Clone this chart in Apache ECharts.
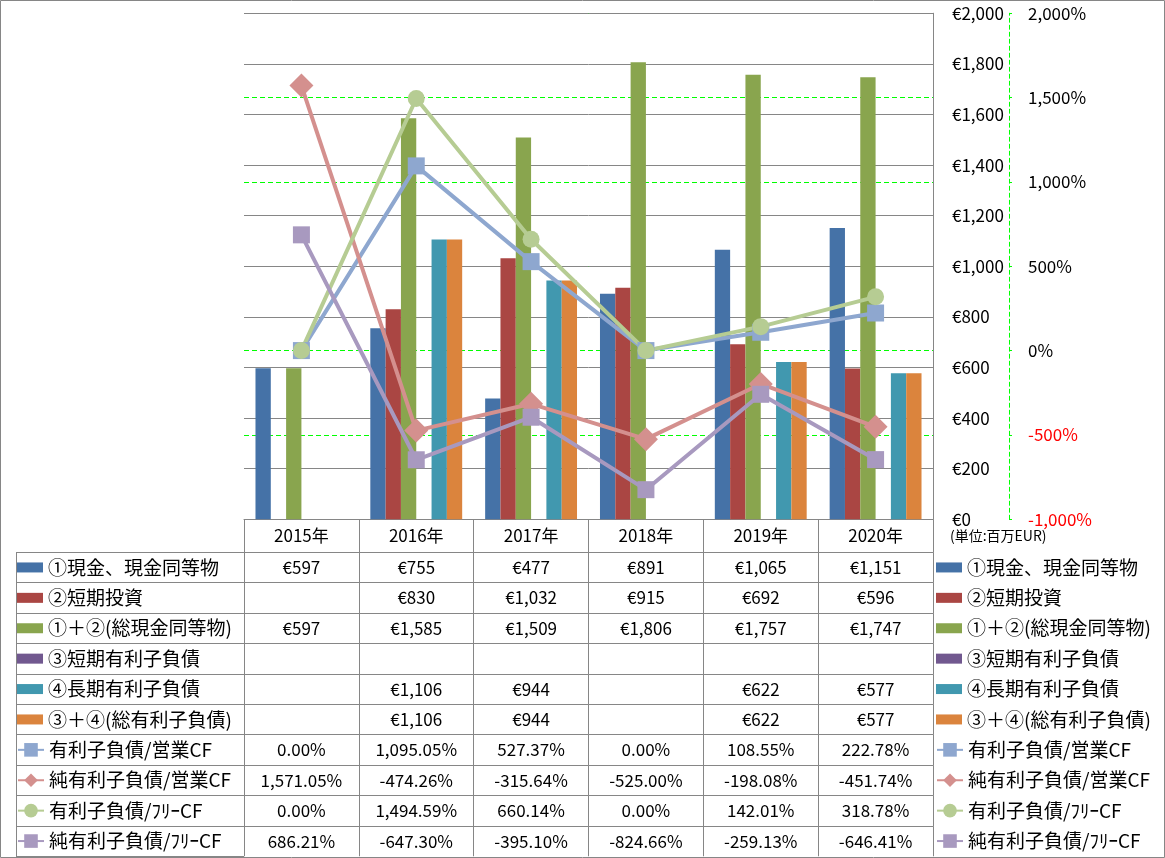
<!DOCTYPE html>
<html><head><meta charset="utf-8">
<script src="https://cdn.jsdelivr.net/npm/echarts@6/dist/echarts.min.js"></script>
<style>html,body{margin:0;padding:0;background:#fff}#c{width:1165px;height:858px}</style>
</head><body><div id="c"></div>
<script>
// ---- data ----
const categories = ['2015年','2016年','2017年','2018年','2019年','2020年'];
const barNames = ['①現金、現金同等物','②短期投資','①＋②(総現金同等物)','③短期有利子負債','④長期有利子負債','③＋④(総有利子負債)'];
const lineNames = ['有利子負債/営業CF','純有利子負債/営業CF','有利子負債/ﾌﾘｰCF','純有利子負債/ﾌﾘｰCF'];
const cash        = [597, 755, 477, 891, 1065, 1151];
const shortInv    = [null, 830, 1032, 915, 692, 596];
const totalCash   = [597, 1585, 1509, 1806, 1757, 1747];
const shortDebt   = [null, null, null, null, null, null];
const longDebt    = [null, 1106, 944, null, 622, 577];
const totalDebt   = [null, 1106, 944, null, 622, 577];
const debtOpCF    = [0, 1095.05, 527.37, 0, 108.55, 222.78];
const netDebtOpCF = [1571.05, -474.26, -315.64, -525.00, -198.08, -451.74];
const debtFreeCF  = [0, 1494.59, 660.14, 0, 142.01, 318.78];
const netDebtFreeCF = [686.21, -647.30, -395.10, -824.66, -259.13, -646.41];
const eurAxis = {min: 0, max: 2000, interval: 200};
const pctAxis = {min: -1000, max: 2000, interval: 500};
const unitLabel = '(単位:百万EUR)';

// ---- styles ----
const barColors = ['#4572A7','#AA4643','#89A54E','#71588F','#4198AF','#DB843D'];
const lineColors = ['#8EA7CF','#D4908E','#B6CC93','#A899BF'];
const lineSymbols = ['rect','diamond','circle','rect'];
const lineSymbolSizes = [17, 24, 17, 17];
const FONT = "'Noto Sans CJK JP', 'Noto Sans', sans-serif";
const GRAY = '#868686';
const GL = 244, GR = 933, GT = 13.25, GB = 519.25, W = 1165, H = 858;
const HEAD_H = 33, ROW_H = 30.4;
const NUM_FS = 17, LEG_FS = 19;

function groupInt(s){ return s.replace(/\B(?=(\d{3})+(?!\d))/g, ','); }
function fmtEur(v){ return v == null ? '' : '€' + groupInt(String(v)); }
function fmtPct(v){
  if (v == null) return '';
  const parts = Math.abs(v).toFixed(2).split('.');
  return (v < 0 ? '-' : '') + groupInt(parts[0]) + '.' + parts[1] + '%';
}

const barData = [cash, shortInv, totalCash, shortDebt, longDebt, totalDebt];
const lineData = [debtOpCF, netDebtOpCF, debtFreeCF, netDebtFreeCF];
const rows = barData.map(a => ({vals: a, fmt: fmtEur})).concat(lineData.map(a => ({vals: a, fmt: fmtPct})));

const rowOffsets = [];
for (let i = 0; i <= rows.length; i++) rowOffsets.push(Math.round(HEAD_H + ROW_H * i));

const xAxes = [{
  type: 'category', data: categories, gridIndex: 0, position: 'bottom', boundaryGap: true,
  axisLine: {show: true, onZero: false, lineStyle: {color: GRAY, width: 1}},
  axisTick: {show: true, interval: 0, length: HEAD_H, lineStyle: {color: GRAY}},
  axisLabel: {interval: 0, margin: 16, verticalAlign: 'middle', fontSize: NUM_FS, color: '#000', fontFamily: FONT},
  splitLine: {show: false}
}];
rows.forEach((r, i) => {
  xAxes.push({
    type: 'category', data: categories, gridIndex: 0, position: 'bottom', boundaryGap: true,
    offset: rowOffsets[i],
    axisLine: {show: true, onZero: false, lineStyle: {color: GRAY, width: 1}},
    axisTick: {show: true, interval: 0, length: rowOffsets[i+1] - rowOffsets[i], lineStyle: {color: GRAY}},
    axisLabel: {interval: 0, margin: (rowOffsets[i+1] - rowOffsets[i]) / 2, verticalAlign: 'middle', fontSize: NUM_FS, color: '#000', fontFamily: FONT,
      formatter: (v, idx) => r.fmt(r.vals[idx])},
    splitLine: {show: false}
  });
});

const series = [];
barNames.forEach((n, i) => series.push({
  name: n, type: 'bar', xAxisIndex: 0, yAxisIndex: 0, data: barData[i],
  itemStyle: {color: barColors[i]}, barGap: '0%', barCategoryGap: '20%'
}));
lineNames.forEach((n, i) => series.push({
  name: n, type: 'line', xAxisIndex: 0, yAxisIndex: 1, data: lineData[i],
  symbol: lineSymbols[i], symbolSize: lineSymbolSizes[i], showAllSymbol: true,
  lineStyle: {color: lineColors[i], width: 4}, itemStyle: {color: lineColors[i]}, z: 5
}));

function legend(left, top, names, ih){
  return {
    orient: 'vertical', left: left, top: top, padding: 0, data: names,
    itemWidth: 26, itemHeight: ih, itemGap: ROW_H - 20, selectedMode: false,
    icon: ih < 12 ? 'rect' : undefined,
    textStyle: {fontSize: LEG_FS, lineHeight: 20, color: '#000', fontFamily: FONT}
  };
}
const y0 = GB + HEAD_H + ROW_H / 2 - 10;
const y1 = GB + HEAD_H + ROW_H * 6 + ROW_H / 2 - 10;

const graphics = [{
  type: 'rect', shape: {x: 0.5, y: 0.5, width: W - 1, height: H - 1},
  style: {fill: 'none', stroke: GRAY, lineWidth: 1}, silent: true, z: -1
}, {
  type: 'text', left: 950, top: 529,
  style: {text: unitLabel, fontSize: 14, fill: '#000', fontFamily: FONT}
}];
rowOffsets.forEach(o => graphics.push({
  type: 'line', shape: {x1: 16, y1: Math.floor(GB + o) + 0.5, x2: GL, y2: Math.floor(GB + o) + 0.5},
  style: {stroke: GRAY, lineWidth: 1}, silent: true
}));
graphics.push({
  type: 'line', shape: {x1: 16.5, y1: Math.floor(GB + rowOffsets[0]), x2: 16.5, y2: Math.floor(GB + rowOffsets[rows.length]) + 1},
  style: {stroke: GRAY, lineWidth: 1}, silent: true
});

const chart = echarts.init(document.getElementById('c'), null, {renderer: 'canvas'});
chart.setOption({
  animation: false,
  backgroundColor: '#fff',
  grid: {left: GL, right: W - GR, top: GT, bottom: H - GB, containLabel: false, outerBoundsMode: 'none'},
  xAxis: xAxes,
  yAxis: [{
    type: 'value', position: 'right', min: eurAxis.min, max: eurAxis.max, interval: eurAxis.interval, z: 1,
    axisLine: {show: true, onZero: false, lineStyle: {color: GRAY, width: 1}},
    axisTick: {show: false},
    splitLine: {show: true, lineStyle: {color: GRAY, width: 1}},
    axisLabel: {margin: 19, align: 'left', fontSize: NUM_FS, color: '#000', fontFamily: FONT, formatter: v => fmtEur(v)}
  }, {
    type: 'value', position: 'right', offset: 76, min: pctAxis.min, max: pctAxis.max, interval: pctAxis.interval, z: 0,
    axisLine: {show: true, onZero: false, lineStyle: {color: '#00FF00', width: 1, type: [4, 3]}},
    axisTick: {show: true, inside: false, length: 3, lineStyle: {color: '#00FF00'}},
    splitLine: {show: true, lineStyle: {color: '#00FF00', width: 1, type: [5, 3]}},
    axisLabel: {margin: 19, align: 'left', fontSize: NUM_FS, fontFamily: FONT,
      color: v => (Number(v) < 0 ? '#FF0000' : '#000'),
      formatter: v => (v < 0 ? '-' : '') + groupInt(String(Math.abs(v))) + '%'}
  }],
  legend: [
    legend(17, y0, barNames, 10), legend(17, y1, lineNames, 17),
    legend(936, y0, barNames, 10), legend(936, y1, lineNames, 17)
  ],
  series: series,
  graphic: graphics
});
</script></body></html>
